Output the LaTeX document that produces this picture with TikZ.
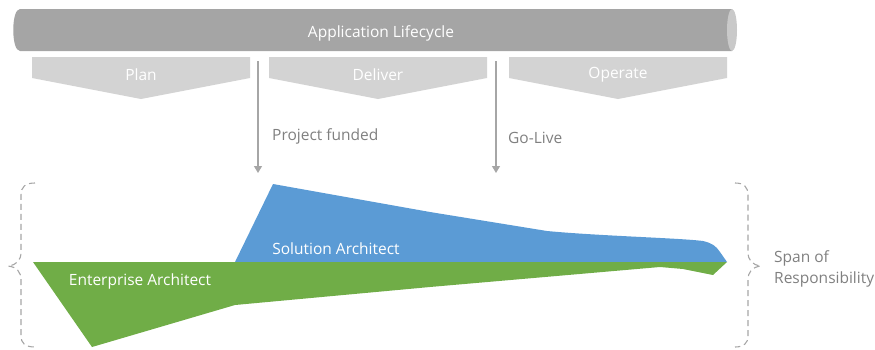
\documentclass[tikz,border=0pt]{standalone}
\usepackage{fontspec}
\setmainfont{Open Sans}
\usetikzlibrary{arrows.meta}
\definecolor{lifegray}{HTML}{A5A5A5}
\definecolor{capgray}{HTML}{C9C9C9}
\definecolor{phasegray}{HTML}{D3D3D3}
\definecolor{linegray}{HTML}{A6A6A6}
\definecolor{textgray}{HTML}{808080}
\definecolor{eagreen}{HTML}{70AD47}
\definecolor{sablue}{HTML}{5B9BD5}
\begin{document}
\begin{tikzpicture}[x=1pt,y=-1pt,every node/.style={font=\fontsize{15.5}{21}\selectfont,inner sep=0pt},
  milestone/.style={draw=linegray,line width=1.2pt,-{Triangle[length=7pt,width=8pt]}},
  span/.style={draw=linegray,line width=1.1pt,dash pattern=on 6pt off 4pt}]
\useasboundingbox (0,0) rectangle (875,349);
\fill[lifegray] (732,9) -- (20,9) .. controls (11,9) and (11,51) .. (20,51) -- (732,51) -- cycle;
\fill[capgray] (732,30) ellipse [x radius=5,y radius=21];
\node[white] (life) at (381,33) {Application Lifecycle};
\fill[phasegray] (32,57) -- (250,57) -- (250,78) -- (141,99) -- (32,78) -- cycle;
\fill[phasegray] (269,57) -- (487,57) -- (487,78) -- (378,99) -- (269,78) -- cycle;
\fill[phasegray] (509,57) -- (727,57) -- (727,78) -- (618,99) -- (509,78) -- cycle;
\node[white] (plan) at (141,75) {Plan};
\node[white] (deliver) at (378,75) {Deliver};
\node[white] (operate) at (618,75) {Operate};
\coordinate (funded top) at (258,61);
\coordinate (funded end) at (258,173);
\coordinate (golive top) at (496,61);
\coordinate (golive end) at (496,173);
\draw[milestone] (funded top) -- (funded end);
\draw[milestone] (golive top) -- (golive end);
\node[anchor=west,text=textgray] (funded) at (272,136) {Project funded};
\node[anchor=west,text=textgray] (golive) at (508,138) {Go-Live};
\fill[sablue] (235,262) -- (273,184) -- (430,212) -- (547,231) .. controls (600,236) and (680,238) .. (703,241)
  .. controls (712,243) and (716,246) .. (720,252) -- (727,262) -- cycle;
\fill[eagreen] (33,262) -- (727,262) -- (713,275) -- (683,269) -- (660,267) -- (430,287) -- (235,305) -- (92,347) -- cycle;
\node[white] (solution) at (336,249) {Solution Architect};
\node[white] (enterprise) at (140,281) {Enterprise Architect};
\draw[span] (35,183) .. controls (25,183) and (21,187) .. (21,195) -- (21,252) .. controls (21,260) and (17,265) .. (8,266)
  .. controls (17,267) and (21,272) .. (21,280) -- (21,336) .. controls (21,343) and (25,347) .. (35,347);
\draw[span] (735,183) .. controls (744,183) and (748,187) .. (748,195) -- (748,252) .. controls (748,260) and (752,265) .. (761,266)
  .. controls (752,267) and (748,272) .. (748,280) -- (748,336) .. controls (748,343) and (744,347) .. (735,347);
\node[anchor=west,align=left,text=textgray] (responsibility) at (774,269) {Span of\\Responsibility};
\end{tikzpicture}
\end{document}
